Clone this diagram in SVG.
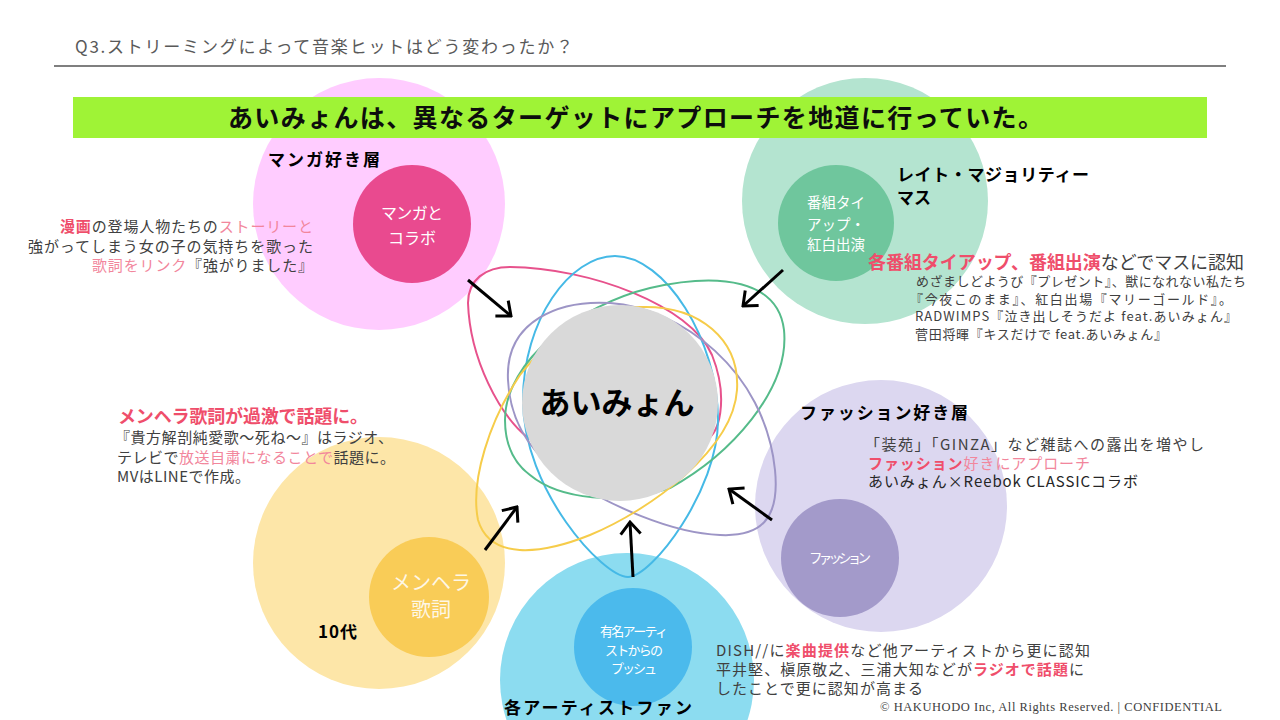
<svg xmlns="http://www.w3.org/2000/svg" width="1280" height="720" viewBox="0 0 1280 720">
<defs>
<style>
text{font-family:"Noto Sans CJK JP","Noto Sans",sans-serif;}
.hd{font-size:17px;fill:#595959;}
.title{font-size:25px;font-weight:bold;fill:#0d0d0d;}
.lbl{font-size:17px;font-weight:bold;fill:#000;}
.body{font-size:15px;fill:#404040;}
.small{font-size:13px;fill:#404040;}
.em{font-weight:bold;fill:#ef4e6b;}
.lt{fill:#f2869c;}
.wh{fill:#fff;text-anchor:middle;}
.orb{fill:none;stroke-width:2;}
.arr{stroke:#000;stroke-width:3;fill:none;marker-end:url(#ah);}
</style>
<marker id="ah" viewBox="-15 -12 17 24" refX="0" refY="0" markerWidth="17" markerHeight="24" markerUnits="userSpaceOnUse" orient="auto">
<path d="M-12,-10 L0,0 L-12,10" fill="none" stroke="#000" stroke-width="3"/>
</marker>
</defs>
<rect width="1280" height="720" fill="#fff"/>

<g id="header">
<text class="hd" x="75" y="53" textLength="498">Q3.ストリーミングによって音楽ヒットはどう変わったか？</text>
<line x1="54" y1="66" x2="1226" y2="66" stroke="#000" stroke-width="1.2"/>
</g>

<g id="node-manga">
<circle cx="379" cy="204" r="126" fill="#ffccff"/>
<circle cx="412" cy="224" r="59" fill="#e94a8f"/>
<text class="wh" x="412" y="219" font-size="16" textLength="62">マンガと</text>
<text class="wh" x="412" y="244" font-size="16" textLength="48">コラボ</text>
</g>

<g id="node-late-majority">
<circle cx="865" cy="201" r="123" fill="#b4e4d0"/>
<circle cx="836" cy="223" r="58" fill="#6fc69d"/>
<text class="wh" x="836" y="208" font-size="14.5">番組タイ</text>
<text class="wh" x="836" y="230" font-size="14.5">アップ・</text>
<text class="wh" x="836" y="250" font-size="14.5">紅白出演</text>
</g>

<g id="node-fashion">
<circle cx="881" cy="506" r="126" fill="#dcd7f0"/>
<circle cx="840" cy="558" r="59" fill="#a39aca"/>
<text class="wh" x="840" y="563" font-size="13.5" textLength="62">ファッション</text>
</g>

<g id="node-teens">
<circle cx="379" cy="563" r="126" fill="#fde6a8"/>
<circle cx="429" cy="597" r="60" fill="#f9cc57"/>
<text class="wh" x="431" y="590" font-size="20" style="fill:#fff;opacity:0.85">メンヘラ</text>
<text class="wh" x="431" y="617" font-size="20" style="fill:#fff;opacity:0.85">歌詞</text>
</g>

<g id="node-artist">
<circle cx="627" cy="680" r="127" fill="#8cdcf0"/>
<circle cx="633" cy="647" r="59" fill="#4bbaec"/>
<text class="wh" x="634" y="636" font-size="13" textLength="68">有名アーティ</text>
<text class="wh" x="634" y="655" font-size="13" textLength="58">ストからの</text>
<text class="wh" x="634" y="673" font-size="13" textLength="46">プッシュ</text>
</g>

<g id="title-bar">
<rect x="73" y="97" width="1134" height="41" fill="#9ff336"/>
<text class="title" x="228" y="127" textLength="815">あいみょんは、異なるターゲットにアプローチを地道に行っていた。</text>
</g>

<g id="node-aimyon">
<g id="orbits">
<path class="orb" stroke="#e7528c" d="M510,267 C590,268 690,305 712,355 C728,395 722,440 700,442 C640,447 560,460 527,437 C500,415 470,360 468,303 C468,280 485,267 510,267 Z"/>
<path class="orb" stroke="#45b9e6" d="M615,256 C665,256 718,340 718,420 C718,490 652,577 628,577 C603,577 523,490 523,400 C523,320 570,256 615,256 Z"/>
<path class="orb" stroke="#55bb8a" d="M505,420 C505,360 580,305 650,288 C720,272 778,280 784,330 C790,390 730,455 670,488 C620,505 560,500 530,475 C510,460 505,440 505,420 Z"/>
<path class="orb" stroke="#9d95c6" d="M508,380 C505,320 560,300 610,303 C680,308 765,370 775,470 C780,520 760,537 720,535 C670,533 610,505 570,480 C530,455 510,420 508,380 Z"/>
<path class="orb" stroke="#f6cc4a" d="M640,307 C700,305 740,340 737,390 C733,450 650,510 590,535 C540,555 490,560 478,520 C470,480 490,420 520,375 C555,330 600,308 640,307 Z"/>
</g>
<circle cx="620" cy="403" r="98" fill="#d9d9d9"/>
<text x="617" y="414" font-size="31" font-weight="bold" fill="#000" text-anchor="middle" textLength="155">あいみょん</text>
</g>

<g id="connectors">
<line class="arr" x1="468" y1="280" x2="511" y2="316"/>
<line class="arr" x1="783" y1="270" x2="743" y2="306"/>
<line class="arr" x1="485" y1="550" x2="517" y2="507"/>
<line class="arr" x1="633" y1="577" x2="630" y2="522"/>
<line class="arr" x1="772" y1="520" x2="729" y2="489"/>
</g>

<g id="labels">
<text class="lbl" x="268" y="166" textLength="112">マンガ好き層</text>
<text class="lbl" x="897" y="181" textLength="192">レイト・マジョリティー</text>
<text class="lbl" x="897" y="204">マス</text>
<text class="lbl" x="800" y="419" font-size="18" textLength="168">ファッション好き層</text>
<text class="lbl" x="318" y="638" font-size="19" textLength="39">10代</text>
<text class="lbl" x="504" y="714" font-size="19" textLength="188">各アーティストファン</text>
</g>

<g id="note-manga" class="body">
<text x="313" y="232" text-anchor="end" textLength="253"><tspan class="em">漫画</tspan>の登場人物たちの<tspan class="lt">ストーリーと</tspan></text>
<text x="313" y="252" text-anchor="end" textLength="285">強がってしまう女の子の気持ちを歌った</text>
<text x="313" y="271" text-anchor="end" textLength="221"><tspan class="lt">歌詞をリンク</tspan>『強がりました』</text>
</g>

<g id="note-mass">
<text x="868" y="269" font-size="18" fill="#404040" textLength="376"><tspan class="em">各番組タイアップ、番組出演</tspan>などでマスに認知</text>
<text class="small" x="916" y="286" textLength="330">めざましどようび『プレゼント』、獣になれない私たち</text>
<text class="small" x="910" y="303.5" textLength="322">『今夜このまま』、紅白出場『マリーゴールド』。</text>
<text class="small" x="915" y="321" textLength="322">RADWIMPS『泣き出しそうだよ feat.あいみょん』</text>
<text class="small" x="915" y="338.5" textLength="252">菅田将暉『キスだけで feat.あいみょん』</text>
</g>

<g id="note-menhera" class="body">
<text x="118" y="423" font-size="18" class="em" textLength="250">メンヘラ歌詞が過激で話題に。</text>
<text x="115" y="443" textLength="278">『貴方解剖純愛歌〜死ね〜』はラジオ、</text>
<text x="117" y="463" textLength="278">テレビで<tspan class="lt">放送自粛になることで</tspan>話題に。</text>
<text x="117" y="482" textLength="133">MVはLINEで作成。</text>
</g>

<g id="note-fashion" class="body">
<text x="865" y="450" textLength="339">「装苑」「GINZA」など雑誌への露出を増やし</text>
<text x="868" y="469" textLength="222"><tspan class="em">ファッション</tspan><tspan class="lt">好きにアプローチ</tspan></text>
<text x="868" y="487" fill="#262626" textLength="270">あいみょん×Reebok CLASSICコラボ</text>
</g>

<g id="note-artist" class="body">
<text x="716" y="656" textLength="374">DISH//に<tspan class="em">楽曲提供</tspan>など他アーティストから更に認知</text>
<text x="716" y="675" textLength="368">平井堅、槇原敬之、三浦大知などが<tspan class="em">ラジオで話題</tspan>に</text>
<text x="716" y="694" textLength="207">したことで更に認知が高まる</text>
</g>

<g id="footer">
<text x="880" y="711" font-size="12.5" fill="#404040" textLength="342" style="font-family:'Liberation Serif',serif">© HAKUHODO Inc, All Rights Reserved. | CONFIDENTIAL</text>
</g>
</svg>
